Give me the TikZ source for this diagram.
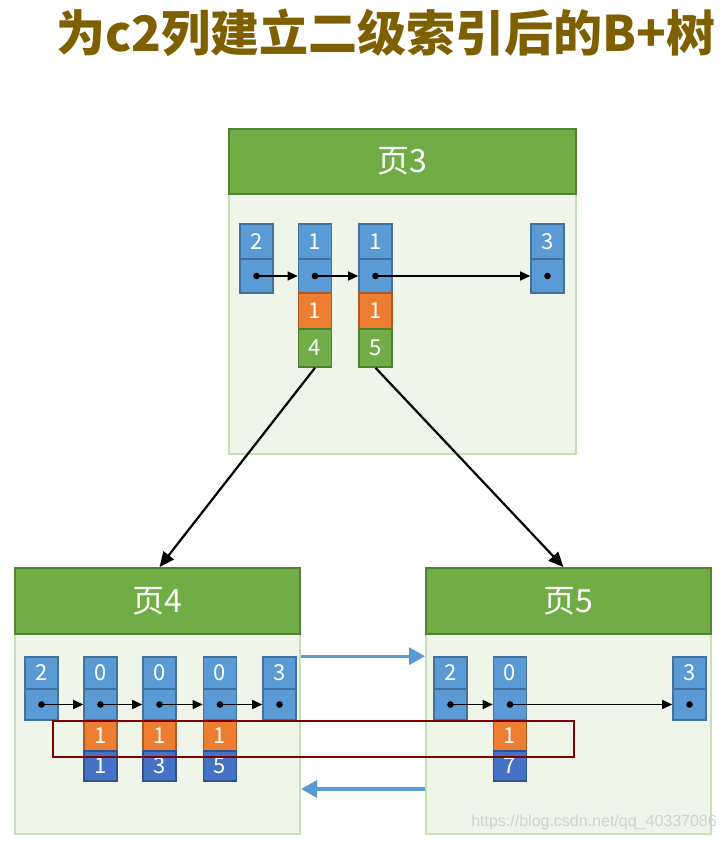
\documentclass[tikz,border=0pt]{standalone}
\usepackage{fontspec}
\newfontfamily\cjk{Noto Sans CJK SC}
\newfontfamily\wm{Liberation Sans}
\usetikzlibrary{arrows.meta,calc}
\definecolor{titlec}{RGB}{127,96,0}
\definecolor{hdrfill}{RGB}{112,173,71}
\definecolor{hdrline}{RGB}{84,130,53}
\definecolor{bodyfill}{RGB}{240,245,234}
\definecolor{bodyline}{RGB}{197,224,180}
\definecolor{bfill}{RGB}{91,155,213}
\definecolor{bline}{RGB}{65,113,156}
\definecolor{ofill}{RGB}{237,125,49}
\definecolor{oline}{RGB}{174,90,33}
\definecolor{gfill}{RGB}{112,173,71}
\definecolor{gline}{RGB}{80,126,50}
\definecolor{dfill}{RGB}{68,114,196}
\definecolor{dline}{RGB}{47,82,143}
\definecolor{hlred}{RGB}{128,0,0}
\definecolor{arrblue}{RGB}{91,155,213}
\tikzset{
  cellbase/.style={draw, line width=1.6pt, minimum width=33pt, inner sep=0pt, text=white, font=\cjk\fontsize{22}{22}\selectfont},
  bcell/.style={cellbase, fill=bfill, draw=bline},
  ocell/.style={cellbase, fill=ofill, draw=oline},
  gcell/.style={cellbase, fill=gfill, draw=gline},
  dcell/.style={cellbase, fill=dfill, draw=dline},
  pagebody/.style={draw=bodyline, fill=bodyfill, line width=2pt, inner sep=0pt},
  pagehead/.style={draw=hdrline, fill=hdrfill, line width=1.8pt, inner sep=0pt, text=white, font=\cjk\fontsize{32}{32}\selectfont},
  linkarr/.style={line width=1.4pt, -{Triangle[length=10pt,width=9pt]}},
  treearr/.style={line width=2.2pt, -{Triangle[length=15pt,width=13pt]}},
  sibarr/.style={draw=arrblue, line width=3.2pt, -{Triangle[length=16pt,width=17pt]}},
}
\begin{document}
\begin{tikzpicture}[x=1pt,y=-1pt]
\useasboundingbox (0,0) rectangle (727,842);
\fill[white] (0,0) rectangle (727,842);
% title
\node[text=titlec, font=\cjk\bfseries\fontsize{49}{49}\selectfont, inner sep=0pt] (title) at (386,33) {为c2列建立二级索引后的B+树};

% ---------- page 3 ----------
\node[pagebody, minimum width=347pt, minimum height=260pt] (p3body) at (402.5,324) {};
\node[pagehead, minimum width=347pt, minimum height=65pt] (p3head) at (402.5,161.5) {页3};
\node[bcell, minimum height=35pt] (p3t1) at (256.5,241.5) {2};
\node[bcell, minimum height=34pt] (p3k1) at (256.5,276) {};
\node[bcell, minimum height=35pt] (p3t2) at (315,241.5) {1};
\node[bcell, minimum height=34pt] (p3k2) at (315,276) {};
\node[ocell, minimum height=36pt] (p3o2) at (315,311) {1};
\node[gcell, minimum height=38pt] (p3g2) at (315,348) {4};
\node[bcell, minimum height=35pt] (p3t3) at (375.5,241.5) {1};
\node[bcell, minimum height=34pt] (p3k3) at (375.5,276) {};
\node[ocell, minimum height=36pt] (p3o3) at (375.5,311) {1};
\node[gcell, minimum height=38pt] (p3g3) at (375.5,348) {5};
\node[bcell, minimum height=35pt] (p3t4) at (547.5,241.5) {3};
\node[bcell, minimum height=34pt] (p3k4) at (547.5,276) {};
\foreach \n in {p3k1,p3k2,p3k3,p3k4} \fill (\n.center) circle (3.3pt);
\draw[linkarr] (p3k1.center) -- (p3k2.west);
\draw[linkarr] (p3k2.center) -- (p3k3.west);
\draw[linkarr] (p3k3.center) -- (p3k4.west);

% ---------- page 4 ----------
\node[pagebody, minimum width=285pt, minimum height=200pt] (p4body) at (157.5,734) {};
\node[pagehead, minimum width=285pt, minimum height=66pt] (p4head) at (157.5,601) {页4};
\node[bcell, minimum height=32pt] (p4t1) at (41.5,673) {2};
\node[bcell, minimum height=31pt] (p4k1) at (41.5,704.5) {};
\node[bcell, minimum height=32pt] (p4t2) at (100.5,673) {0};
\node[bcell, minimum height=31pt] (p4k2) at (100.5,704.5) {};
\node[ocell, minimum height=31pt] (p4o2) at (100.5,735.5) {1};
\node[dcell, minimum height=30pt] (p4d2) at (100.5,766) {1};
\node[bcell, minimum height=32pt] (p4t3) at (159.5,673) {0};
\node[bcell, minimum height=31pt] (p4k3) at (159.5,704.5) {};
\node[ocell, minimum height=31pt] (p4o3) at (159.5,735.5) {1};
\node[dcell, minimum height=30pt] (p4d3) at (159.5,766) {3};
\node[bcell, minimum height=32pt] (p4t4) at (220,673) {0};
\node[bcell, minimum height=31pt] (p4k4) at (220,704.5) {};
\node[ocell, minimum height=31pt] (p4o4) at (220,735.5) {1};
\node[dcell, minimum height=30pt] (p4d4) at (220,766) {5};
\node[bcell, minimum height=32pt] (p4t5) at (279.5,673) {3};
\node[bcell, minimum height=31pt] (p4k5) at (279.5,704.5) {};
\foreach \n in {p4k1,p4k2,p4k3,p4k4,p4k5} \fill (\n.center) circle (3.3pt);
\draw[linkarr] (p4k1.center) -- (p4k2.west);
\draw[linkarr] (p4k2.center) -- (p4k3.west);
\draw[linkarr] (p4k3.center) -- (p4k4.west);
\draw[linkarr] (p4k4.center) -- (p4k5.west);

% ---------- page 5 ----------
\node[pagebody, minimum width=285pt, minimum height=200pt] (p5body) at (568.5,734) {};
\node[pagehead, minimum width=285pt, minimum height=66pt] (p5head) at (568.5,601) {页5};
\node[bcell, minimum height=32pt] (p5t1) at (450.5,673) {2};
\node[bcell, minimum height=31pt] (p5k1) at (450.5,704.5) {};
\node[bcell, minimum height=32pt] (p5t2) at (510,673) {0};
\node[bcell, minimum height=31pt] (p5k2) at (510,704.5) {};
\node[ocell, minimum height=31pt] (p5o2) at (510,735.5) {1};
\node[dcell, minimum height=30pt] (p5d2) at (510,766) {7};
\node[bcell, minimum height=32pt] (p5t3) at (689.5,673) {3};
\node[bcell, minimum height=31pt] (p5k3) at (689.5,704.5) {};
\foreach \n in {p5k1,p5k2,p5k3} \fill (\n.center) circle (3.3pt);
\draw[linkarr] (p5k1.center) -- (p5k2.west);
\draw[linkarr] (p5k2.center) -- (p5k3.west);

% ---------- tree arrows ----------
\draw[treearr] (p3g2.south) -- ([xshift=2pt]p4head.north);
\draw[treearr] (p3g3.south) -- ([xshift=-5pt]p5head.north);

% ---------- sibling arrows ----------
\coordinate (lowy) at (0,789);
\draw[sibarr] (p4t5.north -| p4body.east) -- (p5t1.north -| p5body.west);
\draw[sibarr] (p5body.west |- lowy) -- (p4body.east |- lowy);

% ---------- highlight ----------
\node[draw=hlred, line width=1.6pt, minimum width=521pt, minimum height=36pt, inner sep=0pt] (hl) at (313.5,739) {};

% watermark
\node[anchor=east, text=black!18, font=\wm\fontsize{16}{16}\selectfont, inner sep=0pt] (wmark) at (717,822) {https://blog.csdn.net/qq\_40337086};
\end{tikzpicture}
\end{document}
